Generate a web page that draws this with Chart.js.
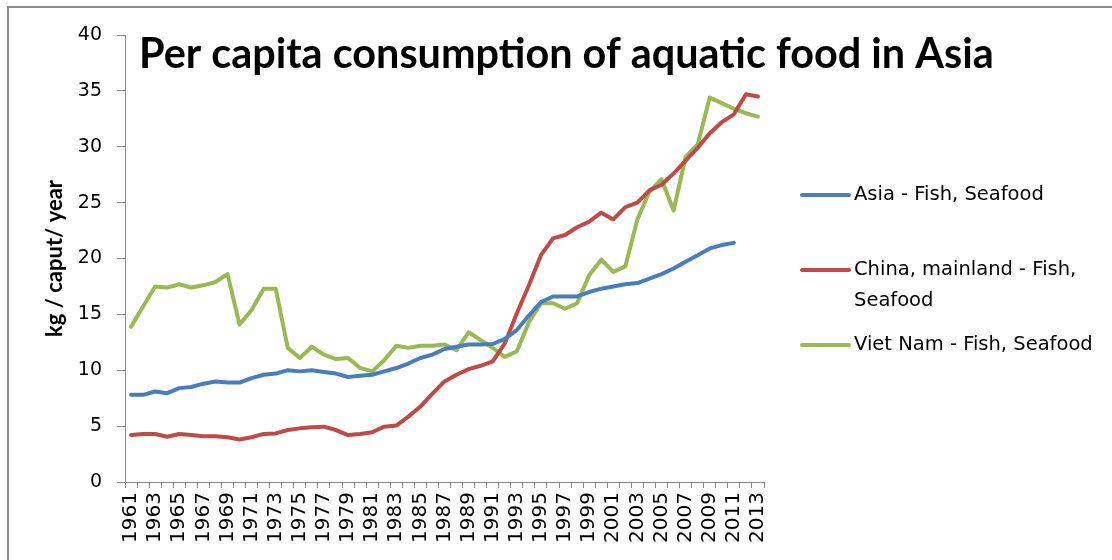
<!DOCTYPE html>
<html><head><meta charset="utf-8">
<script src="https://cdn.jsdelivr.net/npm/chart.js@4.4.0/dist/chart.umd.min.js"></script>
<style>
html,body{margin:0;padding:0;background:#fff;}
#wrap{position:relative;width:1112px;height:560px;overflow:hidden;background:#fff;}
#frame{position:absolute;left:7px;top:6px;width:1300px;height:800px;border-top:2px solid #8c8c8c;border-left:2px solid #8c8c8c;}
canvas{position:absolute;left:0;top:0;}
</style></head>
<body><div id="wrap"><div id="frame"></div><canvas id="c" width="1112" height="560"></canvas></div>
<script>
const years = ['1961','1962','1963','1964','1965','1966','1967','1968','1969','1970','1971','1972','1973','1974','1975','1976','1977','1978','1979','1980','1981','1982','1983','1984','1985','1986','1987','1988','1989','1990','1991','1992','1993','1994','1995','1996','1997','1998','1999','2000','2001','2002','2003','2004','2005','2006','2007','2008','2009','2010','2011','2012','2013'];
const asia = [7.8,7.8,8.1,7.95,8.4,8.5,8.8,9.0,8.9,8.9,9.3,9.6,9.7,10.0,9.9,10.0,9.85,9.7,9.4,9.5,9.6,9.9,10.2,10.6,11.1,11.4,11.9,12.1,12.3,12.3,12.35,12.8,13.6,14.9,16.1,16.6,16.6,16.6,17.0,17.3,17.5,17.7,17.8,18.2,18.6,19.1,19.7,20.3,20.9,21.2,21.4,null,null];
const china = [4.2,4.3,4.3,4.05,4.3,4.2,4.1,4.1,4.0,3.8,4.0,4.3,4.35,4.65,4.8,4.9,4.95,4.65,4.2,4.3,4.45,4.95,5.05,5.85,6.75,7.9,9.0,9.6,10.1,10.4,10.8,12.4,15.1,17.6,20.3,21.8,22.1,22.8,23.3,24.1,23.5,24.6,25.0,26.1,26.6,27.6,28.75,29.9,31.2,32.2,32.9,34.7,34.5];
const vietnam = [13.9,15.7,17.5,17.4,17.7,17.4,17.6,17.9,18.6,14.1,15.4,17.3,17.3,12.0,11.1,12.1,11.4,11.0,11.1,10.2,9.9,10.9,12.2,12.0,12.2,12.2,12.3,11.8,13.4,12.7,12.0,11.2,11.7,14.3,16.0,16.0,15.5,16.0,18.5,19.9,18.8,19.3,23.5,26.0,27.1,24.3,29.1,30.2,34.4,33.9,33.4,33.0,32.7];
const seriesNames = ['Asia - Fish, Seafood','China, mainland - Fish, Seafood','Viet Nam - Fish, Seafood'];
const seriesColors = ['#4a7ebb','#be4b48','#98b954'];
const yTicks = [0,5,10,15,20,25,30,35,40];
const titleText = 'Per capita consumption of aquatic food in Asia';
const yTitle = 'kg / caput/ year';

const titlePlugin = {
  id:'customTitle',
  afterDraw(chart){
    const ctx = chart.ctx;
    ctx.save();
    ctx.fillStyle = '#000';
    ctx.textBaseline = 'alphabetic';
    ctx.textAlign = 'left';
    ctx.font = 'bold 40px Lato';
    const w = ctx.measureText(titleText).width;
    const size = 40 * 855 / w;
    ctx.font = 'bold ' + size.toFixed(2) + 'px Lato';
    ctx.fillText(titleText, 139, 68);
    ctx.restore();
  }
};

const legendPlugin = {
  id:'customLegend',
  afterDraw(chart){
    const ctx = chart.ctx;
    const ys = [195, 270, 345];
    ctx.save();
    ctx.font = '19.5px "DejaVu Sans"';
    ctx.textBaseline = 'middle';
    ctx.textAlign = 'left';
    chart.data.datasets.forEach((ds, i) => {
      const y = ys[i];
      ctx.strokeStyle = ds.borderColor;
      ctx.lineWidth = 4;
      ctx.lineCap = 'round';
      ctx.beginPath(); ctx.moveTo(802, y); ctx.lineTo(849, y); ctx.stroke();
      ctx.fillStyle = '#000';
      const words = ds.label.split(' ');
      const lines = []; let cur = '';
      words.forEach(wd => {
        const test = cur ? cur + ' ' + wd : wd;
        if (ctx.measureText(test).width > 252 && cur) { lines.push(cur); cur = wd; } else cur = test;
      });
      lines.push(cur);
      lines.forEach((ln, k) => ctx.fillText(ln, 854, y + k * 31));
    });
    ctx.restore();
  }
};

new Chart(document.getElementById('c'), {
  type:'line',
  data:{
    labels: years,
    datasets: [
      {label: seriesNames[0], data: asia, borderColor: seriesColors[0]},
      {label: seriesNames[1], data: china, borderColor: seriesColors[1]},
      {label: seriesNames[2], data: vietnam, borderColor: seriesColors[2]}
    ].map(d => Object.assign(d, {borderWidth:4, pointRadius:0, pointHoverRadius:0, tension:0, fill:false, borderJoinStyle:'round', borderCapStyle:'round', spanGaps:false}))
  },
  options:{
    responsive:false,
    animation:false,
    events:[],
    layout:{padding:{left:42, right:348, top:35, bottom:0}},
    plugins:{legend:{display:false}, tooltip:{enabled:false}, title:{display:false}},
    scales:{
      x:{
        offset:true,
        grid:{offset:true, drawOnChartArea:false, drawTicks:true, tickLength:6, color:'#868686', lineWidth:1},
        border:{display:true, color:'#868686', width:1},
        ticks:{autoSkip:false, minRotation:90, maxRotation:90, padding:4, color:'#000',
          font:{family:'DejaVu Sans', size:20},
          callback:(v, i) => (i % 2 === 0 ? years[i] : '')},
        afterFit:(s) => { s.height = 78; }
      },
      y:{
        min:0, max:40,
        afterBuildTicks:(s) => { s.ticks = yTicks.map(v => ({value:v})); },
        grid:{drawOnChartArea:false, drawTicks:true, tickLength:8, color:'#868686', lineWidth:1},
        border:{display:true, color:'#868686', width:1},
        ticks:{padding:15, color:'#000', font:{family:'DejaVu Sans', size:19}},
        title:{display:true, text:yTitle, color:'#000', font:{family:'Lato', weight:'bold', size:22}, padding:{top:0,bottom:0}},
        afterFit:(s) => { s.width = 83; }
      }
    }
  },
  plugins:[titlePlugin, legendPlugin]
});
</script>
</body></html>
